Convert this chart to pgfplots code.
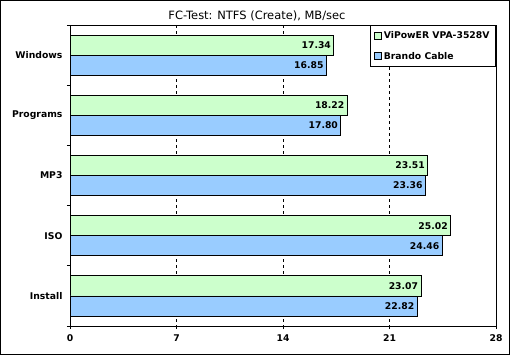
\documentclass[border=0pt]{standalone}
\usepackage{pgfplots}
\pgfplotsset{compat=1.18}
\usepackage{fontspec}
\setmainfont{DejaVu Sans}
\definecolor{cgreen}{HTML}{CCFFCC}
\definecolor{cblue}{HTML}{99CCFF}
\begin{document}
\begin{tikzpicture}[font=\fontsize{9}{11}\selectfont]
\begin{axis}[
  at={(70bp,29bp)}, anchor=south west,
  scale only axis, width=426bp, height=301bp,
  xbar, bar width=0.3333,
  xmin=0, xmax=28, xtick={0,7,14,21,28},
  ymin=-0.5, ymax=4.5, y dir=reverse,
  ytick={-0.5,0.5,1.5,2.5,3.5,4.5}, yticklabels={},
  extra y ticks={0,1,2,3,4},
  extra y tick labels={Windows,Programs,MP3,ISO,Install},
  extra y tick style={major tick length=0pt, grid=none},
  xtick pos=bottom, ytick pos=left,
  tick align=outside, major tick length=3bp,
  tick style={black, line width=0.8bp},
  axis line style={line width=1bp},
  xmajorgrids, major x grid style={black, line width=0.8bp, dash pattern=on 3bp off 3bp},
  tick label style={font=\fontsize{9.3}{11}\selectfont\bfseries},
  /pgf/number format/assume math mode=true,
  xticklabel style={yshift=-2bp},
  yticklabel style={xshift=-4bp},
  nodes near coords,
  every node near coord/.append style={anchor=east, xshift=-1bp, inner sep=1.5bp, font=\fontsize{9.3}{11}\selectfont\bfseries, /pgf/number format/.cd, fixed, fixed zerofill, precision=2, assume math mode=true},
  legend style={at={(1,1)}, anchor=north east, draw=black, line width=1bp, fill=white,
    font=\fontsize{9.3}{11}\selectfont\bfseries, row sep=8bp, inner xsep=4bp, inner ysep=4bp, cells={anchor=west}},
  legend cell align=left,
  legend image code/.code={\draw[#1, line width=0.8bp] (0bp,-3.5bp) rectangle (7bp,3.5bp);},
]
\addplot[draw=black, line width=0.8bp, fill=cgreen, bar shift=-0.1667] coordinates {
  (17.34,0) (18.22,1) (23.51,2) (25.02,3) (23.07,4)};
\addlegendentry{ViPowER VPA-3528V}
\addplot[draw=black, line width=0.8bp, fill=cblue, bar shift=0.1667] coordinates {
  (16.85,0) (17.80,1) (23.36,2) (24.46,3) (22.82,4)};
\addlegendentry{Brando Cable}
\end{axis}
\node[font=\fontsize{11.5}{13}\selectfont] at (257bp,339bp) {FC-Test: NTFS (Create), MB/sec};
\draw[line width=1bp] (0.5bp,0.5bp) rectangle (509.5bp,354.5bp);
\pgfresetboundingbox
\path[use as bounding box] (0,0) rectangle (510bp,355bp);
\end{tikzpicture}
\end{document}
